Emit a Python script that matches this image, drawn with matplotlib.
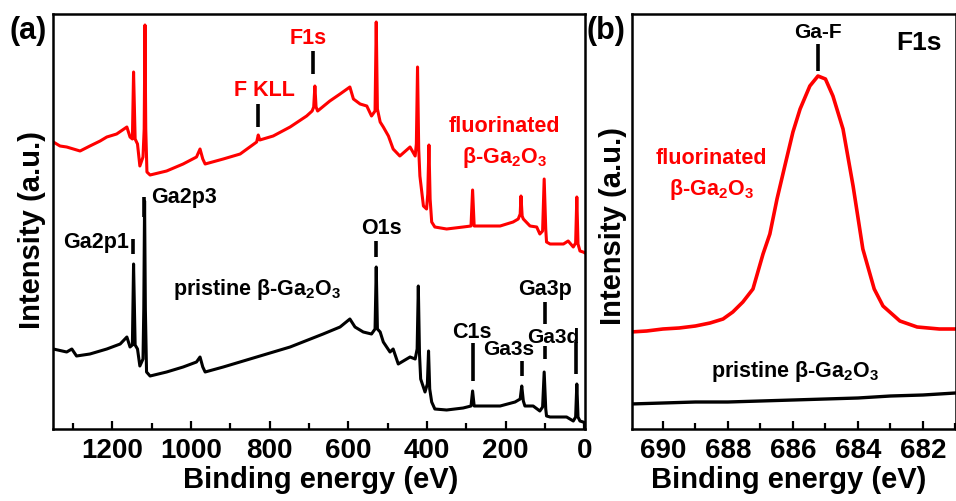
import matplotlib
matplotlib.use("Agg")
import matplotlib.pyplot as plt
from matplotlib.ticker import MultipleLocator

plt.rcParams['font.family'] = ['Liberation Sans', 'DejaVu Sans']
plt.rcParams['font.weight'] = 'bold'
plt.rcParams['mathtext.fontset'] = 'custom'
plt.rcParams['mathtext.rm'] = 'Liberation Sans:bold'
plt.rcParams['mathtext.bf'] = 'Liberation Sans:bold'
plt.rcParams['mathtext.it'] = 'Liberation Sans:bold'

# ---------------- Panel (a): survey spectra ----------------
surv_fluor_E = [1350, 1333, 1316, 1299, 1282, 1257, 1231, 1214, 1189, 1163, 1155, 1149,
                1146, 1142, 1136, 1130, 1122, 1119, 1117, 1115, 1112, 1104, 1062, 1020,
                986, 977, 970, 964, 918, 875, 833, 829, 825, 791, 748, 706, 692, 688,
                685, 682, 678, 647, 621, 596, 587, 570, 553, 541, 532, 529, 526, 519,
                511, 498, 486, 469, 443, 430, 427, 424, 421, 418, 409, 401, 398, 395,
                392, 388, 380, 350, 308, 288, 284, 280, 274, 214, 181, 168, 163, 161,
                158, 155, 138, 121, 113, 106, 102, 98, 96, 87, 53, 41, 28, 22, 19, 16,
                11, 3, -2]
surv_fluor_I = [287, 283, 282, 280, 278, 283, 288, 292, 295, 302, 292, 290,
                357, 290, 285, 263, 272, 300, 404, 300, 257, 254, 258, 265,
                272, 280, 270, 265, 270, 275, 287, 294, 289, 293, 302, 313, 318, 322,
                343, 322, 318, 328, 335, 342, 330, 325, 323, 313, 318, 407, 320, 307,
                302, 293, 280, 273, 282, 273, 285, 362, 280, 253, 223, 220, 235, 284,
                230, 207, 202, 200, 202, 203, 239, 203, 203, 203, 207, 210, 215, 233,
                213, 210, 203, 202, 195, 198, 250, 200, 187, 185, 185, 188, 182, 186, 232, 185,
                178, 177, 176]

surv_pris_E = [1350, 1316, 1303, 1291, 1257, 1214, 1180, 1163, 1155, 1149, 1146, 1142,
               1136, 1130, 1122, 1120, 1118, 1116, 1113, 1104, 1062, 1020, 986, 977,
               970, 964, 918, 833, 748, 664, 621, 596, 583, 562, 541, 532, 529, 526,
               519, 511, 494, 486, 473, 443, 430, 425, 422, 419, 416, 405, 399, 396,
               393, 388, 380, 350, 308, 288, 284, 280, 214, 176, 163, 159, 155, 151,
               130, 113, 106, 102, 98, 96, 87, 45, 28, 22, 19, 16, 11, 3, -2]
surv_pris_I = [80, 77, 80, 73, 75, 80, 85, 92, 82, 84, 165, 84,
               80, 63, 70, 120, 228, 120, 57, 53, 57, 62, 67, 72,
               62, 57, 62, 72, 82, 95, 102, 110, 102, 97, 95, 100, 162, 100,
               97, 87, 77, 80, 65, 72, 70, 80, 143, 75, 50, 37, 45, 78,
               40, 27, 20, 19, 21, 23, 38, 23, 23, 27, 30, 43, 28, 23,
               23, 18, 22, 57, 20, 13, 12, 12, 8, 12, 45, 12, 8, 7, 6]

# ---------------- Panel (b): F1s region ----------------
f1s_fluor_E = [691, 690.5, 690, 689.5, 689, 688.55, 688.15, 687.85, 687.54, 687.23,
               686.92, 686.71, 686.49, 686.25, 686.0, 685.78, 685.48, 685.23, 685.0,
               684.77, 684.46, 684.15, 683.85, 683.5, 683.23, 682.71, 682.18, 681.5, 681]
f1s_fluor_I = [97, 98, 100, 101, 103, 106, 110, 117, 127, 140,
               175, 195, 230, 263, 297, 320, 343, 353, 350,
               333, 300, 243, 180, 140, 123, 108, 102, 100, 100]
f1s_pris_E = [691, 690, 689, 688, 687, 686, 685, 684, 683, 682, 681]
f1s_pris_I = [25, 26, 27, 27, 28, 29, 30, 31, 33, 34, 36]

RED = '#FF0000'
W, H = 956, 502
fig = plt.figure(figsize=(W / 100, H / 100), dpi=100)

def px_axes(l, r, b, t):
    return fig.add_axes([l / W, (H - b) / H, (r - l) / W, (b - t) / H])

ax1 = px_axes(52.7, 585, 430, 14.5)
ax2 = px_axes(632, 955.5, 430, 14.5)

for ax in (ax1, ax2):
    for s in ax.spines.values():
        s.set_linewidth(1.8)
    ax.set_yticks([])
    ax.tick_params(axis='x', which='both', direction='in', top=False, labelsize=20, width=1.6, pad=6)
    ax.tick_params(axis='x', which='major', length=6)
    ax.tick_params(axis='x', which='minor', length=4)
    ax.set_ylim(0, 415.5)

# panel a
ax1.plot(surv_fluor_E, surv_fluor_I, color=RED, lw=2.2)
ax1.plot(surv_pris_E, surv_pris_I, color='k', lw=2.2)
ax1.set_xlim(1351.6, -1.8)
ax1.xaxis.set_major_locator(MultipleLocator(200))
ax1.xaxis.set_minor_locator(MultipleLocator(100))

LS = 15.5
tick_kw = dict(color='k', lw=2.6, solid_capstyle='butt')
# black annotations
ax1.text(1158, 187, 'Ga2p1', ha='right', va='center', fontsize=LS)
ax1.plot([1147, 1147], [175, 190], **tick_kw)
ax1.text(1102, 232, 'Ga2p3', ha='left', va='center', fontsize=LS)
ax1.plot([1119, 1119], [212, 232], **tick_kw)
ax1.text(517, 201, 'O1s', ha='center', va='center', fontsize=LS)
ax1.plot([530, 530], [172, 188], **tick_kw)
ax1.text(287, 97, 'C1s', ha='center', va='center', fontsize=LS)
ax1.plot([284, 284], [48, 86], **tick_kw)
ax1.text(192, 80, 'Ga3s', ha='center', va='center', fontsize=15)
ax1.plot([159, 159], [53, 68], **tick_kw)
ax1.text(100, 140, 'Ga3p', ha='center', va='center', fontsize=LS)
ax1.plot([100, 100], [105, 127], **tick_kw)
ax1.plot([100, 100], [70, 83], **tick_kw)
ax1.text(80, 92, 'Ga3d', ha='center', va='center', fontsize=15)
ax1.plot([21, 21], [55, 87], **tick_kw)
ax1.text(832, 140, r'pristine β-Ga$_{\mathrm{2}}$O$_{\mathrm{3}}$', ha='center', va='center', fontsize=LS)
# red annotations
ax1.text(812, 340, 'F KLL', ha='center', va='center', fontsize=LS, color=RED)
ax1.plot([829, 829], [302, 325], **tick_kw)
ax1.text(701, 392, 'F1s', ha='center', va='center', fontsize=LS, color=RED)
ax1.plot([689, 689], [355, 378], **tick_kw)
ax1.text(202, 303, 'fluorinated', ha='center', va='center', fontsize=LS, color=RED)
ax1.text(202, 273, r'β-Ga$_{\mathrm{2}}$O$_{\mathrm{3}}$', ha='center', va='center', fontsize=LS, color=RED)

# panel b
ax2.plot(f1s_fluor_E, f1s_fluor_I, color=RED, lw=2.6)
ax2.plot(f1s_pris_E, f1s_pris_I, color='k', lw=2.4)
ax2.set_xlim(690.95, 681.0)
ax2.xaxis.set_major_locator(MultipleLocator(2))
ax2.xaxis.set_minor_locator(MultipleLocator(1))
ax2.text(685.23, 398, 'Ga-F', ha='center', va='center', fontsize=15)
ax2.plot([685.23, 685.23], [358, 385], **tick_kw)
ax2.text(682.12, 387, 'F1s', ha='center', va='center', fontsize=19)
ax2.text(688.52, 272, 'fluorinated', ha='center', va='center', fontsize=LS, color=RED)
ax2.text(688.52, 240, r'β-Ga$_{\mathrm{2}}$O$_{\mathrm{3}}$', ha='center', va='center', fontsize=LS, color=RED)
ax2.text(685.94, 58, r'pristine β-Ga$_{\mathrm{2}}$O$_{\mathrm{3}}$', ha='center', va='center', fontsize=LS)

# axis labels & panel labels (figure pixel positions)
def ftext(x, y, s, **kw):
    fig.text(x / W, 1 - y / H, s, **kw)

ftext(321, 480, 'Binding energy (eV)', ha='center', va='center', fontsize=21)
ftext(789, 480, 'Binding energy (eV)', ha='center', va='center', fontsize=21)
ftext(32, 230, 'Intensity (a.u.)', ha='center', va='center', fontsize=21, rotation=90)
ftext(613, 226, 'Intensity (a.u.)', ha='center', va='center', fontsize=21, rotation=90)
ftext(28, 31, '(a)', ha='center', va='center', fontsize=22)
ftext(606, 31, '(b)', ha='center', va='center', fontsize=22)

fig.savefig('out.png', dpi=100)
